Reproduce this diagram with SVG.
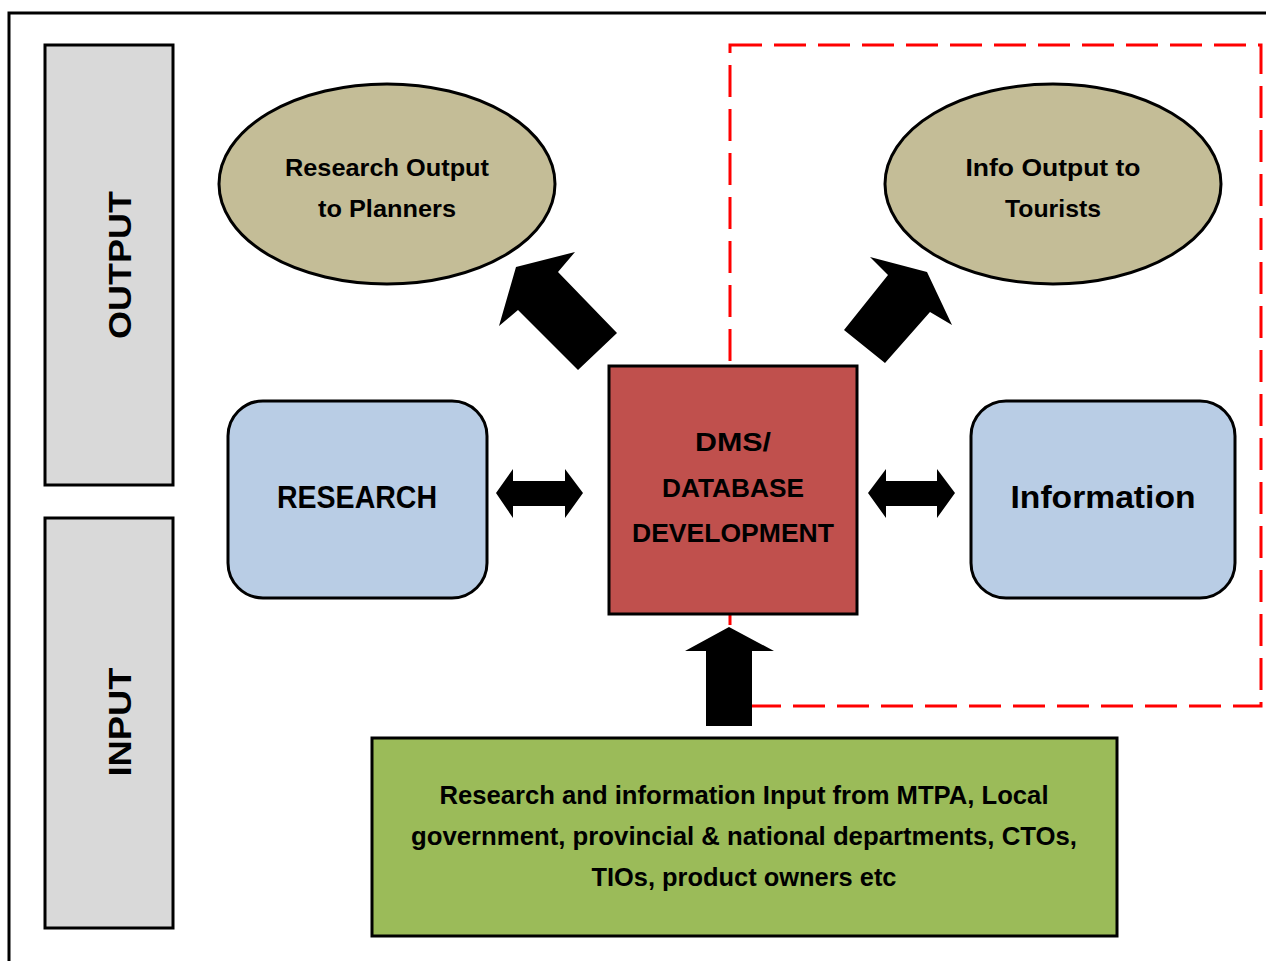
<svg xmlns="http://www.w3.org/2000/svg" width="1266" height="961" viewBox="0 0 1266 961">
<style>
.t{font-family:"Liberation Sans",Arial,sans-serif;font-weight:bold;fill:#000;text-anchor:middle;dominant-baseline:central}
.side{fill:#d9d9d9;stroke:#000;stroke-width:3}
.ell{fill:#c4bd97;stroke:#000;stroke-width:3}
.blue{fill:#b9cde5;stroke:#000;stroke-width:3}
.arr{fill:#000;stroke:none}
</style>
<rect width="1266" height="961" fill="#fff"/>
<path d="M9 961 V13 H1266" fill="none" stroke="#000" stroke-width="3"/>
<rect x="730" y="45" width="531" height="661" fill="none" stroke="#ff0000" stroke-width="3" stroke-dasharray="32 12"/>
<g id="output-label">
<rect class="side" x="45" y="45" width="128" height="440"/>
<text class="t" font-size="32" transform="translate(120 265) rotate(-90)" textLength="148" lengthAdjust="spacingAndGlyphs">OUTPUT</text>
</g>
<g id="input-label">
<rect class="side" x="45" y="518" width="128" height="410"/>
<text class="t" font-size="32" transform="translate(120 722) rotate(-90)" textLength="109" lengthAdjust="spacingAndGlyphs">INPUT</text>
</g>
<g id="research-output">
<ellipse class="ell" cx="387" cy="184" rx="168" ry="100"/>
<text class="t" font-size="24" x="387" y="167" textLength="204" lengthAdjust="spacingAndGlyphs">Research Output</text>
<text class="t" font-size="24" x="387" y="208" textLength="138" lengthAdjust="spacingAndGlyphs">to Planners</text>
</g>
<g id="info-output">
<ellipse class="ell" cx="1053" cy="184" rx="168" ry="100"/>
<text class="t" font-size="24" x="1053" y="167" textLength="175" lengthAdjust="spacingAndGlyphs">Info Output to</text>
<text class="t" font-size="24" x="1053" y="208" textLength="96" lengthAdjust="spacingAndGlyphs">Tourists</text>
</g>
<g id="research">
<rect class="blue" x="228" y="401" width="259" height="197" rx="35"/>
<text class="t" font-size="31" x="357" y="497" textLength="160" lengthAdjust="spacingAndGlyphs">RESEARCH</text>
</g>
<g id="information">
<rect class="blue" x="971" y="401" width="264" height="197" rx="35"/>
<text class="t" font-size="31" x="1103" y="497" textLength="185" lengthAdjust="spacingAndGlyphs">Information</text>
</g>
<g id="dms">
<rect x="609" y="366" width="248" height="248" fill="#c0504d" stroke="#000" stroke-width="3"/>
<text class="t" font-size="26" x="733" y="442" textLength="76" lengthAdjust="spacingAndGlyphs">DMS/</text>
<text class="t" font-size="26" x="733" y="488" textLength="142" lengthAdjust="spacingAndGlyphs">DATABASE</text>
<text class="t" font-size="26" x="733" y="533" textLength="202" lengthAdjust="spacingAndGlyphs">DEVELOPMENT</text>
</g>
<g id="input-sources">
<rect x="372" y="738" width="745" height="198" fill="#9bbb59" stroke="#000" stroke-width="3"/>
<text class="t" font-size="25" x="744" y="795" textLength="609" lengthAdjust="spacingAndGlyphs">Research and information Input from MTPA, Local</text>
<text class="t" font-size="25" x="744" y="836" textLength="666" lengthAdjust="spacingAndGlyphs">government, provincial &amp; national departments, CTOs,</text>
<text class="t" font-size="25" x="744" y="877" textLength="305" lengthAdjust="spacingAndGlyphs">TIOs, product owners etc</text>
</g>
<g id="connectors">
<polygon class="arr" points="578,370 617,333 558,272 575,252 516,267 499,326 518,310"/>
<polygon class="arr" points="885,363 844,330 888,275 870,257 927,272 952,325 930,312"/>
<polygon class="arr" points="496,493 513,469 513,481 565,481 565,469 583,493 565,518 565,506 513,506 513,518"/>
<polygon class="arr" points="868,493 886,469 886,481 937,481 937,469 955,493 937,518 937,506 886,506 886,518"/>
<polygon class="arr" points="729,627 774,651 752,651 752,726 706,726 706,651 685,651"/>
</g>
</svg>
